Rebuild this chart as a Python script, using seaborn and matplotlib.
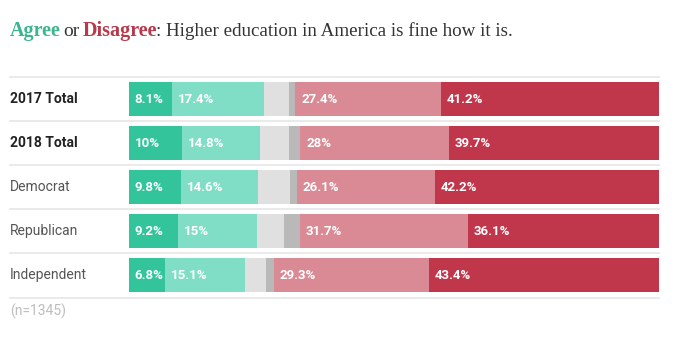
import matplotlib
matplotlib.use("Agg")
import matplotlib.pyplot as plt
import matplotlib.transforms as mtransforms
import numpy as np
import pandas as pd
import seaborn as sns

categories = ["2017 Total", "2018 Total", "Democrat", "Republican", "Independent"]
strongly_agree = [8.1, 10.0, 9.8, 9.2, 6.8]
somewhat_agree = [17.4, 14.8, 14.6, 15.0, 15.1]
neither = [4.6, 5.3, 5.9, 5.0, 3.9]
dont_know = [1.3, 2.2, 1.4, 3.0, 1.5]
somewhat_disagree = [27.4, 28.0, 26.1, 31.7, 29.3]
strongly_disagree = [41.2, 39.7, 42.2, 36.1, 43.4]
bold_rows = ["2017 Total", "2018 Total"]
footnote = "(n=1345)"

series = [strongly_agree, somewhat_agree, neither, dont_know, somewhat_disagree, strongly_disagree]
colors = ["#34c49c", "#80dec7", "#e0e0e0", "#b9b9b9", "#d98a95", "#c0364b"]
labelled = [True, True, False, False, True, True]

W, H = 673, 342
fig = plt.figure(figsize=(W / 100, H / 100), dpi=100)
fig.patch.set_facecolor("white")

ax_left, ax_right = 129, 659
ax_top, ax_bot = 77, 297.5
ax = fig.add_axes([ax_left / W, 1 - ax_bot / H, (ax_right - ax_left) / W, (ax_bot - ax_top) / H])

arr = np.array(series)
cum = np.cumsum(arr, axis=0)
df = pd.DataFrame({"category": categories})

# draw cumulative totals from back (largest) to front
for i in range(len(series) - 1, -1, -1):
    df["cum"] = cum[i]
    sns.barplot(data=df, x="cum", y="category", color=colors[i], width=0.77,
                errorbar=None, saturation=1, linewidth=0, ax=ax, orient="h")

ax.set_xlim(0, 100)
ax.set_ylim(len(categories) - 0.5, -0.5)
ax.axis("off")

sans = ["Roboto", "DejaVu Sans"]

# value labels
for i, vals in enumerate(series):
    if not labelled[i]:
        continue
    for j, v in enumerate(vals):
        left = cum[i][j] - v
        txt = f"{v:g}%"
        ax.text(left + 1.1, j, txt, ha="left", va="center", color="white",
                fontsize=9.5, fontweight="bold", family=sans)

# separator lines
xmin = (10 - ax_left) / (ax_right - ax_left)
for k in range(len(categories) + 1):
    ax.axhline(k - 0.5, xmin=xmin, xmax=1.0, color="#e8e8e8", lw=1.3, clip_on=False, zorder=0)

# category labels
trans = mtransforms.blended_transform_factory(fig.transFigure, ax.transData)
for j, c in enumerate(categories):
    bold = c in bold_rows
    ax.text(10 / W, j, c, transform=trans, ha="left", va="center",
            fontsize=10, fontweight="bold" if bold else "normal",
            color="#222222" if bold else "#555555", family=sans)

# footnote
fig.text(10 / W, 1 - 311 / H, footnote, ha="left", va="center", fontsize=10,
         color="#bdbdbd", family=sans)

# title with coloured words
serif = ["Liberation Serif", "DejaVu Serif"]
title_parts = [("Agree", "#3bb58e", "bold", 14.5), ("or", "#333333", "normal", 14),
               ("Disagree", "#b8394b", "bold", 14.5),
               (": Higher education in America is fine how it is.", "#333333", "normal", 13.7)]
gaps = [2, 4, -1.5, 0]
fig.canvas.draw()
renderer = fig.canvas.get_renderer()
x = 10
ty = 1 - 36 / H
for (text, col, wt, fs), g in zip(title_parts, gaps):
    t = fig.text(x / W, ty, text, ha="left", va="baseline", fontsize=fs,
                 color=col, fontweight=wt, family=serif)
    bb = t.get_window_extent(renderer=renderer)
    x += bb.width + g

fig.savefig("out.png", dpi=100, facecolor="white")
